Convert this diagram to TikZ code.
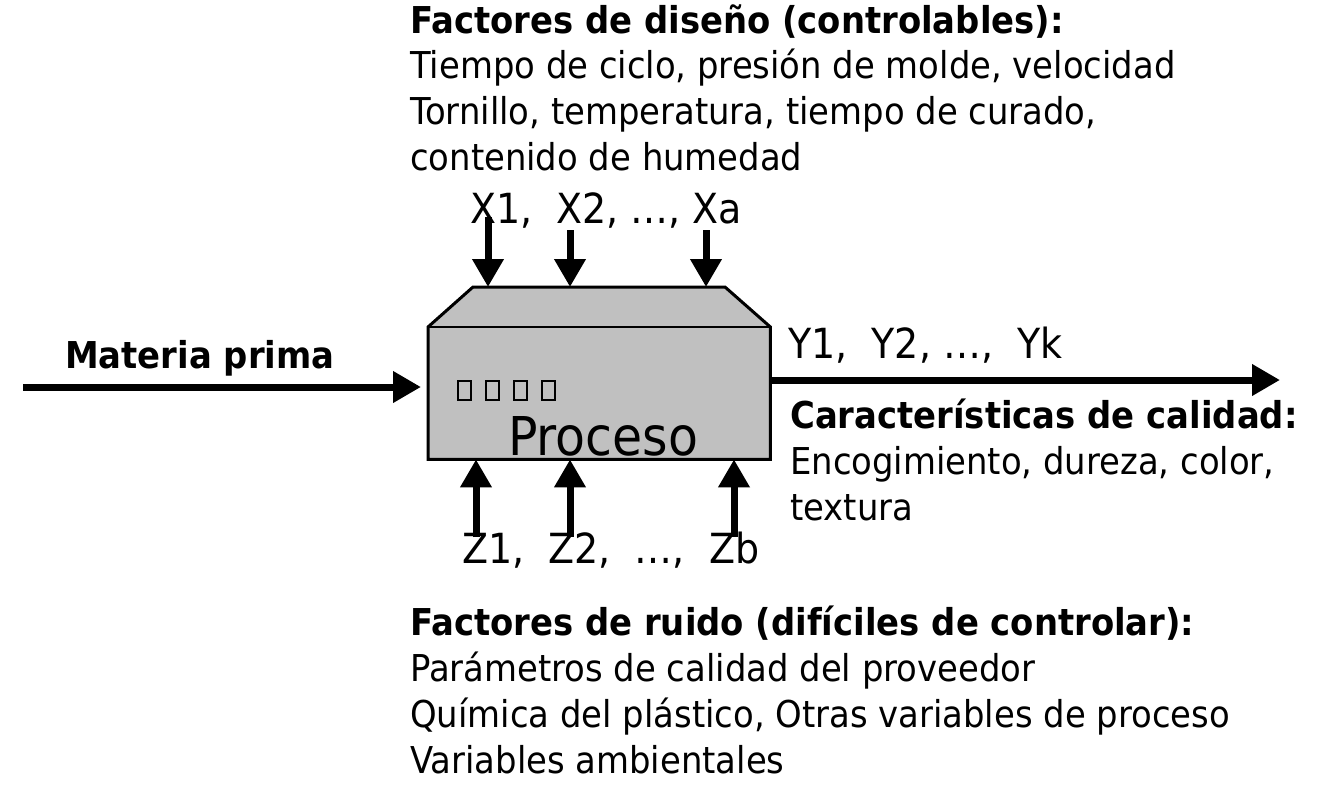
\documentclass[tikz,border=0pt]{standalone}
\usepackage{fontspec}
\setmainfont{DejaVu Sans}[FakeStretch=0.915]
\usetikzlibrary{arrows.meta}
\definecolor{boxgray}{HTML}{C0C0C0}
\begin{document}
\begin{tikzpicture}[x=1pt,y=-1pt,
  txt/.style={anchor=base west,inner sep=0pt,font=\fontsize{37}{46}\selectfont},
  btxt/.style={txt,font=\fontsize{37}{46}\selectfont\bfseries},
  vtxt/.style={anchor=base west,inner sep=0pt,font=\fontsize{41.5}{46}\selectfont},
  bigarrow/.style={line width=7pt,-{Triangle[length=28pt,width=30pt]}},
  outline/.style={line width=3pt,line join=miter},
  sq/.style={line width=2pt}]
\useasboundingbox (0,0) rectangle (1344,806);

% process box (front face as named node)
\node[minimum width=342pt,minimum height=132pt,inner sep=0pt,anchor=north west] (proc) at (428,327) {};
\coordinate (tl) at (473,287);
\coordinate (tr) at (725,287);
\fill[boxgray] (proc.south west) -- (proc.north west) -- (tl) -- (tr) -- (proc.north east) -- (proc.south east) -- cycle;
\draw[outline] (proc.south west) -- (proc.north west) -- (tl) -- (tr) -- (proc.north east) -- (proc.south east) -- cycle;
\draw[line width=2pt] (proc.north west) -- (proc.north east);
\foreach \cx in {464,492,520,548}
  \draw[sq] (\cx-6.5,380.5) rectangle (\cx+6.5,399.5);
\node[anchor=base west,inner sep=0pt,font=\fontsize{53.5}{54}\selectfont] (plabel) at (508,455) {Proceso};

% top texts
\node[btxt] (t0) at (410,33) {Factores de diseño (controlables):};
\node[txt] (t1) at (410,78) {Tiempo de ciclo, presión de molde, velocidad};
\node[txt] (t2) at (410,124) {Tornillo, temperatura, tiempo de curado,};
\node[txt] (t3) at (410,170) {contenido de humedad};
\node[vtxt] (xl) at (470,223) {X1,\ \ X2, …, Xa};

% top arrows
\coordinate (x1) at (488,217);
\coordinate (x2) at (570,230);
\coordinate (xa) at (706,230);
\foreach \c in {x1,x2,xa}
  \draw[bigarrow] (\c) -- (\c |- tl);

% bottom arrows
\coordinate (z1) at (476,537);
\coordinate (z2) at (570,537);
\coordinate (zb) at (734,537);
\foreach \c in {z1,z2,zb}
  \draw[bigarrow] (\c) -- (\c |- proc.south);
\node[vtxt] (zl) at (462,563) {Z1,\ \ Z2,\ \ …,\ \ Zb};

% input
\node[btxt] (mp) at (65,368) {Materia prima};
\coordinate (in) at (23,387);
\draw[bigarrow,shorten >=7pt] (in) -- (in -| proc.west);

% output
\coordinate (out) at (1280,380);
\draw[bigarrow] (out -| proc.east) -- (out);
\node[vtxt] (yl) at (788,358) {Y1,\ \ Y2, …,\ \ Yk};
\node[btxt] (c0) at (790,428) {Características de calidad:};
\node[txt] (c1) at (790,474) {Encogimiento, dureza, color,};
\node[txt] (c2) at (790,520) {textura};

% bottom texts
\node[btxt] (r0) at (410,635) {Factores de ruido (difíciles de controlar):};
\node[txt] (r1) at (410,681) {Parámetros de calidad del proveedor};
\node[txt] (r2) at (410,727) {Química del plástico, Otras variables de proceso};
\node[txt] (r3) at (410,773) {Variables ambientales};
\end{tikzpicture}
\end{document}
